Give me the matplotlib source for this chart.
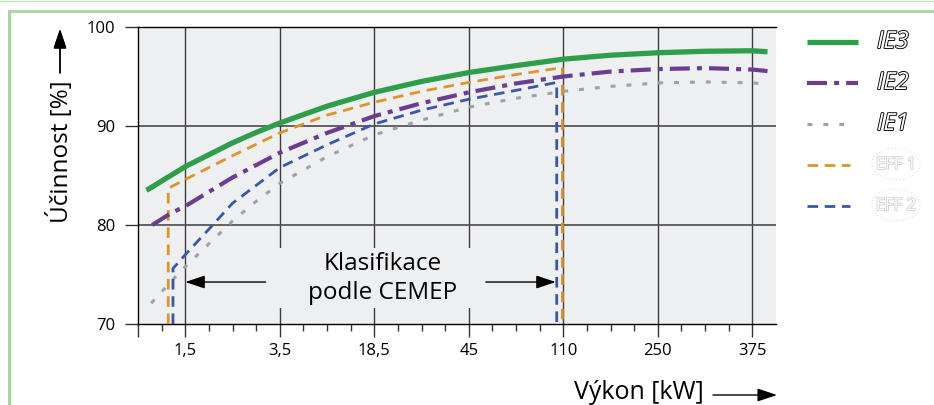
import numpy as np
import matplotlib.pyplot as plt
import matplotlib.patheffects as pe
from matplotlib.lines import Line2D
from matplotlib.patches import Ellipse, Rectangle

plt.rcParams['font.family'] = ['Open Sans', 'DejaVu Sans']

# popisky osy x (kategorie, rovnomerne rozlozene)
vykon_popisky = ['1,5', '3,5', '18,5', '45', '110', '250', '375']
ucinnost_ticky = [70, 80, 90, 100]

# poloha na ose x: 0 = 1,5 kW, 1 = 3,5 kW, ... 6 = 375 kW
ie3_x = [-0.41, 0.0, 0.25, 0.5, 0.75, 1.0, 1.5, 2.0, 2.5, 3.0, 3.5, 4.0, 4.5, 5.0, 5.5, 6.0, 6.16]
ie3_y = [83.5, 85.9, 87.1, 88.3, 89.35, 90.3, 92.0, 93.4, 94.5, 95.4, 96.1, 96.75, 97.15, 97.4, 97.55, 97.6, 97.5]

ie2_x = [-0.35, -0.15, 0.0, 0.5, 1.0, 1.5, 2.0, 2.5, 3.0, 3.5, 4.0, 4.5, 5.0, 5.5, 6.0, 6.16]
ie2_y = [80.0, 81.2, 81.9, 84.8, 87.3, 89.3, 91.0, 92.3, 93.4, 94.3, 95.0, 95.5, 95.75, 95.85, 95.7, 95.55]

ie1_x = [-0.36, -0.13, 0.0, 0.5, 0.75, 1.0, 1.5, 2.0, 2.5, 3.0, 3.5, 4.0, 4.5, 5.0, 5.5, 6.0, 6.07]
ie1_y = [72.1, 74.5, 75.8, 80.4, 82.4, 84.2, 86.9, 89.1, 90.6, 91.9, 92.8, 93.5, 94.0, 94.35, 94.45, 94.35, 94.3]

eff1_x = [-0.18, -0.18, 0.0, 0.5, 1.0, 1.5, 2.0, 2.5, 3.0, 3.5, 3.99, 3.99]
eff1_y = [70.0, 83.7, 84.6, 87.0, 89.3, 91.1, 92.4, 93.5, 94.4, 95.2, 95.9, 70.0]

eff2_x = [-0.13, -0.13, 0.0, 0.31, 0.5, 1.0, 1.5, 2.0, 2.5, 3.0, 3.5, 3.93, 3.93]
eff2_y = [70.0, 75.6, 77.0, 80.2, 82.2, 85.8, 88.1, 90.2, 91.6, 92.7, 93.6, 94.4, 70.0]

cemep_od = 0.0
cemep_do = 3.92
cemep_y = 74.24

barvy = {'IE3': '#2f9e4b', 'IE2': '#6a3d8f', 'IE1': '#9aa2ab',
         'EFF 1': '#e0922b', 'EFF 2': '#3a56a5'}
styly = {
    'IE3': dict(lw=3.8, linestyle='-', solid_capstyle='butt'),
    'IE2': dict(lw=3.0, linestyle=(0, (4.8, 1.7, 1.2, 1.7))),
    'IE1': dict(lw=2.2, linestyle=(0, (1.6, 3.6))),
    'EFF 1': dict(lw=2.0, linestyle=(0, (3.8, 2.4))),
    'EFF 2': dict(lw=2.0, linestyle=(0, (3.8, 2.4))),
}

W, H = 934, 405
fig = plt.figure(figsize=(W / 100, H / 100), dpi=100)
ax = fig.add_axes([138 / W, 1 - 324 / H, (776 - 138) / W, (324 - 27) / H])

def fx(px):
    return px / W

def fy(py):
    return 1 - py / H

ax.set_facecolor('#eeeff1')
ax.set_xlim(-0.5, 6.25)
ax.set_ylim(70, 100)

# mrizka
for i in range(len(vykon_popisky)):
    ax.axvline(i, color='#3c3c3c', lw=1.0, zorder=1)
for v in ucinnost_ticky[1:-1]:
    ax.axhline(v, color='#4a4a4a', lw=1.2, zorder=1)

# podklad pod textem
ax.add_patch(Rectangle((0.85, 71.6), 2.33, 6.1, facecolor='#eeeff1',
                       edgecolor='none', zorder=2))

ax.plot(ie1_x, ie1_y, color=barvy['IE1'], zorder=3, **styly['IE1'])
ax.plot(eff2_x, eff2_y, color=barvy['EFF 2'], zorder=4, **styly['EFF 2'])
ax.plot(eff1_x, eff1_y, color=barvy['EFF 1'], zorder=4, **styly['EFF 1'])
ax.plot(ie2_x, ie2_y, color=barvy['IE2'], zorder=5, **styly['IE2'])
ax.plot(ie3_x, ie3_y, color=barvy['IE3'], zorder=6, **styly['IE3'])

sipka = dict(arrowstyle='-|>,head_length=0.6,head_width=0.2', color='black',
             lw=1.0, mutation_scale=20, shrinkA=0, shrinkB=0)
ax.annotate('', xy=(cemep_od, cemep_y), xytext=(0.85, cemep_y), arrowprops=sipka, zorder=3)
ax.annotate('', xy=(cemep_do, cemep_y), xytext=(3.18, cemep_y), arrowprops=sipka, zorder=3)
ax.text(2.09, 74.6, 'Klasifikace\npodle CEMEP', ha='center', va='center',
        fontsize=17.5, linespacing=1.25, zorder=3)

ax.spines['right'].set_visible(False)
for s in ['left', 'top', 'bottom']:
    ax.spines[s].set_linewidth(1.0)
    ax.spines[s].set_color('black')

ax.set_yticks(ucinnost_ticky)
ax.set_yticklabels([str(v) for v in ucinnost_ticky])
major = [-0.5] + list(range(len(vykon_popisky)))
ax.set_xticks(major)
ax.set_xticklabels([''] + vykon_popisky)
minor = [m + k * 0.25 for m in range(-1, 7) for k in (1, 2, 3) if -0.5 < m + k * 0.25 < 6.25]
ax.set_xticks(minor, minor=True)
ax.tick_params(axis='y', direction='out', length=9.5, width=1.0, pad=7,
               labelsize=12, color='#333333')
ax.tick_params(axis='x', which='major', direction='out', length=9.5, width=1.0,
               pad=4, labelsize=12, color='#333333')
ax.tick_params(axis='x', which='minor', direction='out', length=5, width=1.0,
               color='#333333')

# popisky os se sipkami
fig.text(fx(60), fy(152), 'Účinnost [%]', rotation=90, ha='center', va='center',
         fontsize=17.5)
fig.add_artist(plt.annotate('', xy=(fx(60), fy(29)), xytext=(fx(60), fy(73)),
                            xycoords='figure fraction', textcoords='figure fraction',
                            arrowprops=sipka))
fig.text(fx(574), fy(399), 'Výkon [kW]', ha='left', va='baseline', fontsize=18)
ax.annotate('', xy=(fx(777), fy(395)), xytext=(fx(713), fy(395)),
            xycoords='figure fraction', textcoords='figure fraction',
            arrowprops=sipka, annotation_clip=False)

# legenda
legenda_y = [42, 83, 124, 165, 206]
for nazev, ly in zip(['IE3', 'IE2', 'IE1', 'EFF 1', 'EFF 2'], legenda_y):
    st = dict(styly[nazev])
    konec = 858 if nazev in ('IE3', 'IE2') else 850
    fig.add_artist(Line2D([fx(807), fx(konec)], [fy(ly), fy(ly)], color=barvy[nazev], **st))
    if nazev.startswith('IE'):
        fig.text(fx(877), fy(ly), nazev, ha='left', va='center', fontsize=17,
                 style='italic', color='white',
                 path_effects=[pe.withStroke(linewidth=1.3, foreground='black')])
    else:
        fig.text(fx(896), fy(ly), nazev, ha='center', va='center', fontsize=12,
                 color='white',
                 path_effects=[pe.withStroke(linewidth=1.3, foreground='#d4d4d4')])
        fig.add_artist(Ellipse((fx(896), fy(ly - 1)), 48 / W, 32 / H, transform=fig.transFigure,
                               facecolor='none', edgecolor='#dddddd', lw=0.8,
                               linestyle=(0, (1, 2))))

# zeleny ramecek
zelena = '#a9d4a2'
fig.add_artist(Line2D([0, 1], [fy(0.5), fy(0.5)], color='#c2e2bd', lw=1.0))
fig.add_artist(Line2D([fx(8.5), 1], [fy(10.5), fy(10.5)], color=zelena, lw=2.0))
fig.add_artist(Line2D([fx(8.5), fx(8.5)], [fy(10.5), 0], color=zelena, lw=2.2))

fig.savefig('out.png', dpi=100)
